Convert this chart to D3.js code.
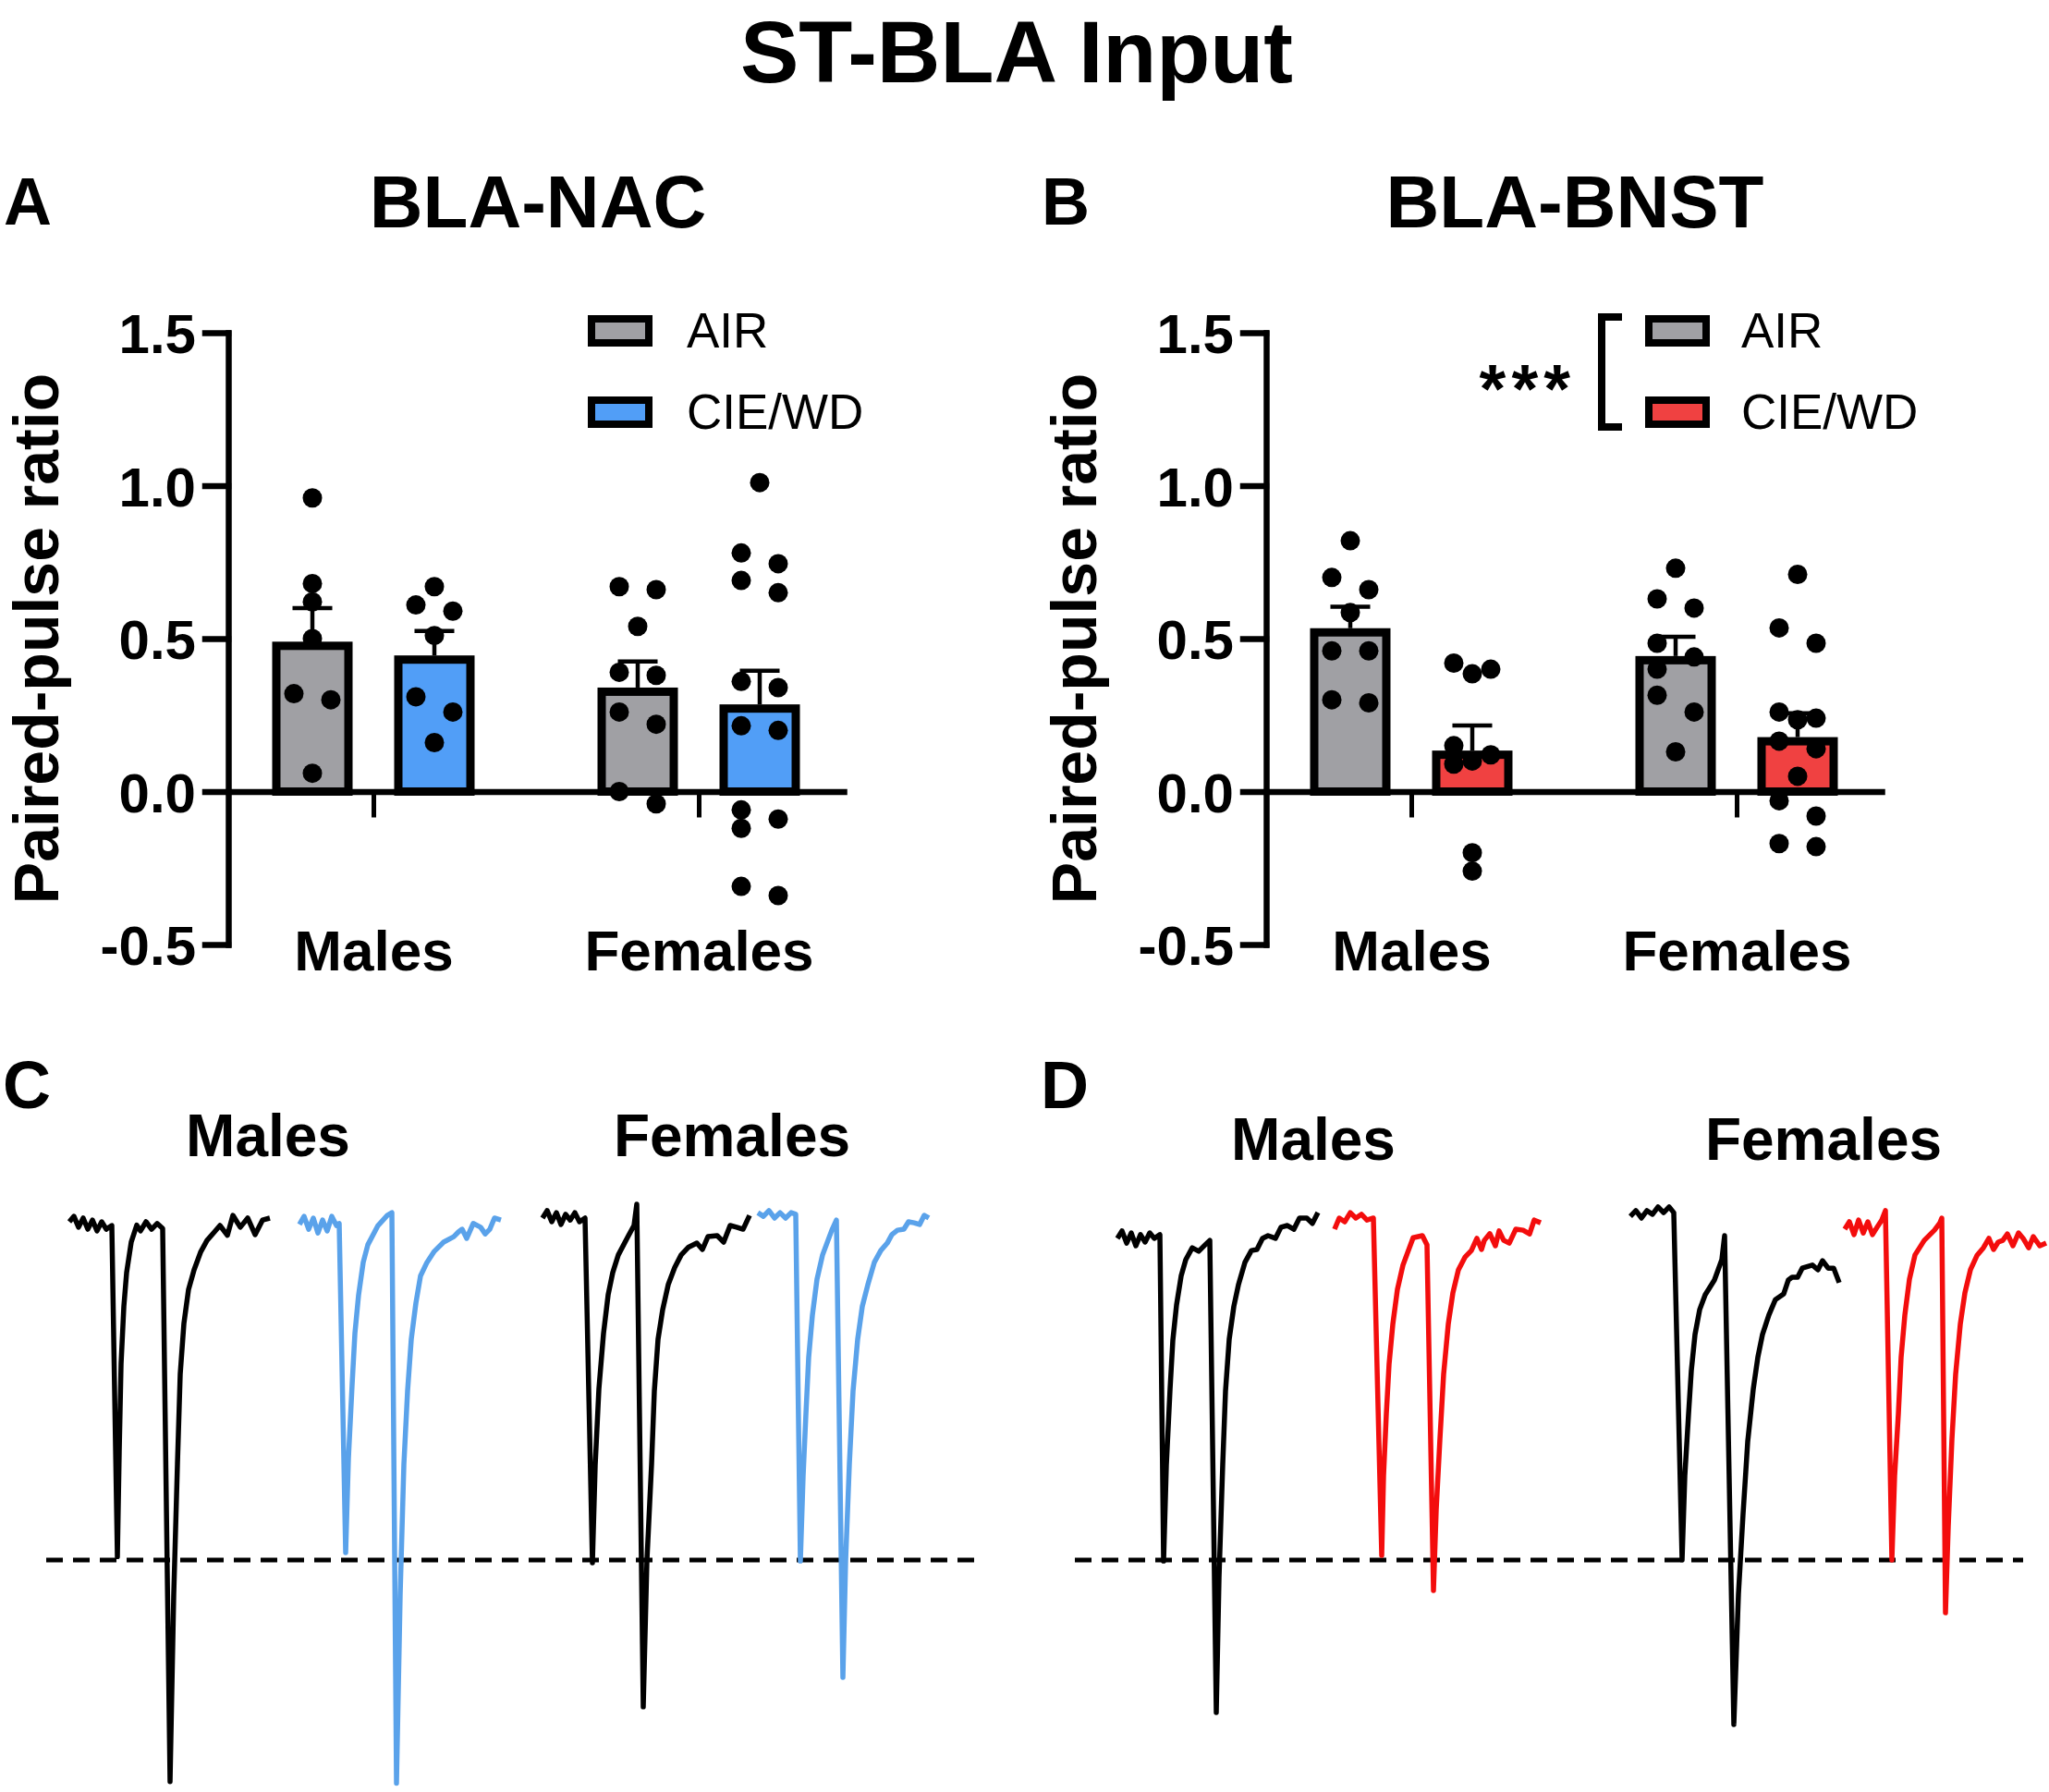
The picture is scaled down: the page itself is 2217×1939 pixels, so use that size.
<!DOCTYPE html>
<html>
<head>
<meta charset="utf-8">
<script src="https://cdn.jsdelivr.net/npm/d3@7"></script>
<style>
body { margin: 0; background: #fff; }
svg { display: block; font-family: "Liberation Sans", Arial, sans-serif; }
</style>
</head>
<body>
<svg id="chart" width="2217" height="1939"></svg>
<script>
// ---------- data ----------
const GROUPS = ["Males", "Females"];
const TREATMENTS = ["AIR", "CIE/WD"];
const Y_TICKS = [1.5, 1.0, 0.5, 0.0, -0.5];

// bar order: Males AIR, Males CIE/WD, Females AIR, Females CIE/WD
const NAC_MEANS = [0.49, 0.445, 0.34, 0.285];
const NAC_SEMS = [0.11, 0.08, 0.085, 0.11];
const NAC_POINTS = [
    [0.96, 0.68, 0.62, 0.50, 0.32, 0.30, 0.06],
    [0.67, 0.61, 0.59, 0.51, 0.31, 0.26, 0.16],
    [0.67, 0.66, 0.54, 0.39, 0.38, 0.26, 0.22, 0.00, -0.04],
    [1.01, 0.78, 0.745, 0.69, 0.65, 0.36, 0.34, 0.215, 0.20, -0.06, -0.09, -0.12, -0.31, -0.34]
];

const BNST_MEANS = [0.534, 0.134, 0.443, 0.178];
const BNST_SEMS = [0.07, 0.082, 0.063, 0.078];
const BNST_POINTS = [
    [0.82, 0.70, 0.66, 0.585, 0.46, 0.46, 0.30, 0.29],
    [0.42, 0.40, 0.385, 0.15, 0.12, 0.10, 0.09, -0.20, -0.26],
    [0.73, 0.63, 0.60, 0.485, 0.44, 0.40, 0.315, 0.26, 0.13],
    [0.71, 0.535, 0.485, 0.26, 0.24, 0.235, 0.165, 0.14, 0.05, -0.03, -0.08, -0.17, -0.18]
];

// example traces: [time, current normalised to first peak]
const TRACE_C_MALES_AIR = [[0,0],[5,.016],[10,-.016],[15,.011],[20,-.022],[25,.005],[30,-.027],[35,0],[40,-.022],[46,-.011],[52,-.99],[54,-.68],[56,-.42],[59,-.25],[62,-.15],[67,-.06],[73,-.01],[77,-.027],[83,0],[89,-.022],[95,-.005],[101,-.02],[109,-1.655],[113,-1.1],[117,-.716],[120,-.45],[124,-.3],[129,-.2],[135,-.142],[142,-.09],[149,-.055],[157,-.03],[163,-.011],[171,-.04],[177,.019],[185,-.016],[193,.011],[201,-.038],[209,.005],[217,.011]];
const TRACE_C_MALES_CIE = [[0,-.008],[5,.016],[10,-.022],[15,.011],[20,-.033],[25,.005],[30,-.027],[35,.016],[40,-.011],[43,-.005],[50,-.978],[53,-.7],[57,-.481],[60,-.33],[64,-.216],[69,-.12],[74,-.068],[85,-.011],[95,.019],[100,.027],[105,-1.66],[109,-1.1],[113,-.716],[117,-.5],[121,-.347],[126,-.24],[131,-.16],[138,-.12],[146,-.087],[156,-.06],[167,-.044],[172,-.03],[176,-.022],[181,-.049],[188,-.005],[196,-.016],[201,-.036],[206,-.022],[211,.011],[218,.005]];
const TRACE_C_FEMALES_AIR = [[0,.011],[5,.033],[10,0],[15,.027],[20,-.008],[25,.022],[30,.005],[35,.027],[40,0],[46,.011],[54,-1.008],[57,-.72],[61,-.494],[66,-.33],[71,-.216],[76,-.15],[82,-.098],[93,-.041],[99,-.011],[102,.052],[109,-1.434],[113,-1.0],[118,-.716],[121,-.5],[125,-.347],[130,-.26],[136,-.186],[143,-.135],[150,-.098],[158,-.075],[167,-.063],[173,-.082],[179,-.044],[189,-.041],[196,-.06],[203,-.011],[210,-.016],[217,-.022],[224,.019]];
const TRACE_C_FEMALES_CIE = [[0,.027],[6,.016],[12,.033],[18,.011],[24,.027],[30,.011],[36,.027],[41,.022],[46,-1.003],[49,-.75],[52,-.568],[55,-.4],[59,-.276],[64,-.17],[70,-.098],[80,-.025],[85,.005],[92,-1.347],[95,-1.0],[99,-.716],[103,-.5],[108,-.347],[113,-.25],[119,-.186],[126,-.12],[133,-.085],[140,-.063],[145,-.038],[151,-.025],[158,-.022],[163,0],[169,-.003],[175,-.008],[180,.019],[185,.011]];

const TRACE_D_MALES_AIR = [[0,-.049],[5,-.027],[10,-.063],[15,-.033],[20,-.071],[25,-.038],[30,-.06],[35,-.033],[40,-.049],[46,-.038],[50,-1.003],[53,-.72],[57,-.495],[60,-.35],[64,-.246],[69,-.16],[74,-.112],[81,-.077],[88,-.087],[95,-.068],[100,-.055],[107,-1.451],[110,-1.05],[114,-.716],[117,-.5],[121,-.347],[126,-.25],[131,-.186],[138,-.12],[145,-.085],[151,-.082],[157,-.049],[163,-.041],[171,-.049],[177,-.016],[184,-.011],[191,-.022],[197,.011],[205,.011],[211,-.005],[217,.027]];
const TRACE_D_MALES_CIE = [[0,-.022],[5,.011],[11,0],[17,.027],[23,.011],[29,.022],[35,.005],[42,.011],[51,-.986],[53,-.75],[56,-.568],[59,-.42],[63,-.303],[68,-.2],[74,-.128],[85,-.047],[95,-.041],[100,-.068],[107,-1.09],[110,-.85],[114,-.642],[118,-.45],[123,-.303],[128,-.21],[134,-.142],[141,-.105],[148,-.085],[154,-.049],[159,-.082],[162,-.055],[168,-.035],[174,-.071],[178,-.027],[183,-.055],[189,-.063],[196,-.022],[204,-.025],[211,-.036],[216,.005],[223,-.003]];
const TRACE_D_FEMALES_AIR = [[0,.016],[6,.033],[12,.011],[18,.033],[24,.022],[30,.044],[36,.027],[42,.044],[47,.027],[56,-1.0],[59,-.75],[63,-.568],[66,-.44],[70,-.333],[75,-.26],[81,-.216],[91,-.172],[99,-.112],[102,-.041],[112,-1.486],[117,-1.1],[122,-.863],[127,-.65],[133,-.495],[138,-.4],[143,-.333],[150,-.275],[157,-.23],[166,-.213],[171,-.172],[175,-.164],[181,-.164],[186,-.137],[197,-.128],[203,-.142],[208,-.115],[214,-.137],[220,-.137],[226,-.18]];
const TRACE_D_FEMALES_CIE = [[0,-.022],[5,0],[10,-.038],[15,.005],[20,-.033],[25,0],[30,-.038],[35,-.016],[40,.005],[44,.033],[51,-1.0],[54,-.75],[58,-.568],[61,-.4],[65,-.276],[70,-.17],[76,-.098],[86,-.055],[97,-.025],[103,-.003],[105,.011],[109,-1.156],[112,-.9],[116,-.642],[120,-.45],[125,-.303],[130,-.21],[136,-.142],[143,-.1],[150,-.077],[156,-.049],[161,-.082],[166,-.06],[171,-.055],[176,-.036],[182,-.071],[188,-.033],[193,-.049],[199,-.077],[204,-.044],[211,-.071],[218,-.063]];

const GRAY = "#a0a0a4";
const BLUE = "#519ef7";
const RED = "#f04141";
const BLUE_TRACE = "#5aa2ea";
const RED_TRACE = "#f30d0d";

const svg = d3.select("#chart");

// place points side by side when they would overlap
function swarm(values, y, r, lane) {
    let pts = values.map(v => ({v: v, py: y(v)})).sort((a, b) => a.py - b.py);
    let clusters = [];
    pts.forEach(function(p, i) {
        if (i > 0 && p.py - pts[i - 1].py < 2 * r - 2) {
            clusters[clusters.length - 1].push(p);
        } else {
            clusters.push([p]);
        }
    });
    clusters.forEach(function(c) {
        if (c.length === 1) { c[0].dx = 0; return; }
        c.forEach(function(p, i) {
            let prefs = i % 2 === 0 ? [-lane, lane, 0] : [lane, -lane, 0];
            let free = prefs.find(dx => c.slice(0, i).every(q => q.dx !== dx || Math.abs(q.py - p.py) >= 2 * r - 2));
            p.dx = free === undefined ? 0 : free;
        });
    });
    return pts;
}

class BarPanel {
    constructor(opts) {
        this.o = opts;
        this.g = svg.append("g");
        this.y = d3.scaleLinear().domain([-0.5, 1.5]).range([1022, 360]);
        this.x = d3.scalePoint().domain(GROUPS).range([opts.axisX, opts.axisX + 666]).padding(0.446);
        this.sub = d3.scalePoint().domain(TREATMENTS).range([-66, 66]);
        this.colors = d3.scaleOrdinal().domain(TREATMENTS).range([GRAY, opts.color]);
        this.initTitles();
        this.initBars();
        this.initAxes();
        this.initPoints();
        this.initLegend();
    }

    rows() {
        let self = this, out = [];
        GROUPS.forEach(function(g, gi) {
            TREATMENTS.forEach(function(t, ti) {
                let k = gi * 2 + ti;
                out.push({group: g, treat: t, mean: self.o.means[k], sem: self.o.sems[k], points: self.o.points[k],
                    cx: self.x(g) + self.sub(t)});
            });
        });
        return out;
    }

    initTitles() {
        let o = this.o;
        this.g.append("text").attr("x", o.letterX).attr("y", 243)
            .attr("font-size", 72).attr("font-weight", "bold").text(o.letter);
        this.g.append("text").attr("x", o.titleX).attr("y", 246).attr("text-anchor", "middle")
            .attr("font-size", 80).attr("font-weight", "bold").text(o.title);
        this.g.append("text")
            .attr("transform", `translate(${o.axisX - 184},${this.y(0.5)}) rotate(-90)`)
            .attr("text-anchor", "middle").attr("font-size", 68).attr("font-weight", "bold")
            .text("Paired-pulse ratio");
    }

    initBars() {
        let self = this;
        let bw = 87, sw = 9;
        let bars = this.g.selectAll(".bar").data(this.rows()).enter().append("g").attr("class", "bar");
        bars.append("rect")
            .attr("x", d => d.cx - bw / 2 + sw / 2)
            .attr("width", bw - sw)
            .attr("y", d => self.y(d.mean) + sw / 2)
            .attr("height", d => self.y(0) - self.y(d.mean) - sw / 2)
            .attr("fill", d => self.colors(d.treat))
            .attr("stroke", "#000").attr("stroke-width", sw);
        bars.append("line")
            .attr("x1", d => d.cx).attr("x2", d => d.cx)
            .attr("y1", d => self.y(d.mean)).attr("y2", d => self.y(d.mean + d.sem))
            .attr("stroke", "#000").attr("stroke-width", 4.5);
        bars.append("line")
            .attr("x1", d => d.cx - 21.5).attr("x2", d => d.cx + 21.5)
            .attr("y1", d => self.y(d.mean + d.sem)).attr("y2", d => self.y(d.mean + d.sem))
            .attr("stroke", "#000").attr("stroke-width", 4.5);
    }

    initAxes() {
        let o = this.o;
        let yAxis = this.g.append("g").attr("transform", `translate(${o.axisX},0)`)
            .call(d3.axisLeft(this.y).tickValues(Y_TICKS).tickFormat(d => d.toFixed(1))
                .tickSize(25).tickSizeOuter(0).tickPadding(10));
        let xAxis = this.g.append("g").attr("transform", `translate(0,${this.y(0)})`)
            .call(d3.axisBottom(this.x).tickSize(28).tickSizeOuter(0).tickPadding(121));
        [yAxis, xAxis].forEach(function(a) {
            a.select(".domain").attr("stroke", "#000").attr("stroke-width", 6.5).attr("stroke-linecap", "square");
            a.selectAll(".tick line").attr("stroke", "#000").attr("stroke-width", 6.5).attr("stroke-linecap", "square");
            a.selectAll(".tick text").attr("fill", "#000").attr("font-family", "Liberation Sans, Arial, sans-serif")
                .attr("font-weight", "bold");
        });
        yAxis.selectAll(".tick text").attr("font-size", 60).attr("dy", "0.36em");
        xAxis.selectAll(".tick line").attr("stroke-width", 5).attr("stroke-linecap", "butt");
        xAxis.selectAll(".tick text").attr("font-size", 62);
    }

    initPoints() {
        let self = this;
        this.rows().forEach(function(d) {
            let pts = swarm(d.points, self.y, 10.5, 20);
            self.g.append("g").selectAll("circle").data(pts).enter().append("circle")
                .attr("cx", p => d.cx + p.dx).attr("cy", p => p.py).attr("r", 10.5).attr("fill", "#000");
        });
    }

    initLegend() {
        let o = this.o, self = this;
        let items = this.g.selectAll(".legend").data(TREATMENTS).enter().append("g")
            .attr("class", "legend")
            .attr("transform", (d, i) => `translate(${o.legendX},${358 + i * 88})`);
        items.append("rect").attr("x", 4).attr("y", -13).attr("width", 62).attr("height", 26)
            .attr("fill", d => self.colors(d)).attr("stroke", "#000").attr("stroke-width", 8);
        items.append("text").attr("x", o.legendTextDx).attr("y", 18).attr("font-size", 53).text(d => d);

        if (o.stars) {
            let bx = o.legendX - 47;
            this.g.append("path")
                .attr("d", `M${bx + 22},343 H${bx} V462 H${bx + 22}`)
                .attr("fill", "none").attr("stroke", "#000").attr("stroke-width", 8);
            this.g.append("text").attr("x", bx - 28).attr("y", 446).attr("text-anchor", "end")
                .attr("font-size", 74).attr("font-weight", "bold").attr("letter-spacing", 6).text("***");
        }
    }
}

class TracePanel {
    constructor(opts) {
        this.o = opts;
        this.g = svg.append("g");
        this.y = d3.scaleLinear().domain([-1, 0]).range([1688, 1322]);
        this.draw();
    }

    draw() {
        let o = this.o, self = this;
        this.g.append("text").attr("x", o.letterX).attr("y", 1199)
            .attr("font-size", 72).attr("font-weight", "bold").text(o.letter);
        GROUPS.forEach(function(g, i) {
            self.g.append("text").attr("x", o.labelX[i]).attr("y", o.labelY).attr("text-anchor", "middle")
                .attr("font-size", 64).attr("font-weight", "bold").text(g);
        });
        this.g.append("line")
            .attr("x1", o.dash[0]).attr("x2", o.dash[1])
            .attr("y1", this.y(-1)).attr("y2", this.y(-1))
            .attr("stroke", "#000").attr("stroke-width", 5).attr("stroke-dasharray", "18,11");
        o.traces.forEach(function(tr) {
            let x = d3.scaleLinear().domain([0, 230]).range([tr.x0, tr.x0 + 230]);
            let line = d3.line().x(d => x(d[0])).y(d => self.y(d[1]));
            self.g.append("path").datum(tr.data).attr("d", line)
                .attr("fill", "none").attr("stroke", tr.color).attr("stroke-width", 5.5)
                .attr("stroke-linejoin", "round");
        });
    }
}

svg.append("text").attr("x", 1100).attr("y", 89).attr("text-anchor", "middle")
    .attr("font-size", 95).attr("font-weight", "bold").text("ST-BLA Input");

new BarPanel({axisX: 247, letter: "A", letterX: 4, title: "BLA-NAC", titleX: 582, color: BLUE,
    means: NAC_MEANS, sems: NAC_SEMS, points: NAC_POINTS, legendX: 636, legendTextDx: 107, stars: false});
new BarPanel({axisX: 1370, letter: "B", letterX: 1127, title: "BLA-BNST", titleX: 1704, color: RED,
    means: BNST_MEANS, sems: BNST_SEMS, points: BNST_POINTS, legendX: 1780, legendTextDx: 104, stars: true});

new TracePanel({letter: "C", letterX: 3, labelX: [290, 792], labelY: 1251, dash: [50, 1060],
    traces: [
        {data: TRACE_C_MALES_AIR, x0: 75, color: "#000"},
        {data: TRACE_C_MALES_CIE, x0: 324, color: BLUE_TRACE},
        {data: TRACE_C_FEMALES_AIR, x0: 587, color: "#000"},
        {data: TRACE_C_FEMALES_CIE, x0: 820, color: BLUE_TRACE}
    ]});
new TracePanel({letter: "D", letterX: 1126, labelX: [1421, 1973], labelY: 1255, dash: [1163, 2189],
    traces: [
        {data: TRACE_D_MALES_AIR, x0: 1209, color: "#000"},
        {data: TRACE_D_MALES_CIE, x0: 1444, color: RED_TRACE},
        {data: TRACE_D_FEMALES_AIR, x0: 1764, color: "#000"},
        {data: TRACE_D_FEMALES_CIE, x0: 1996, color: RED_TRACE}
    ]});
</script>
</body>
</html>
